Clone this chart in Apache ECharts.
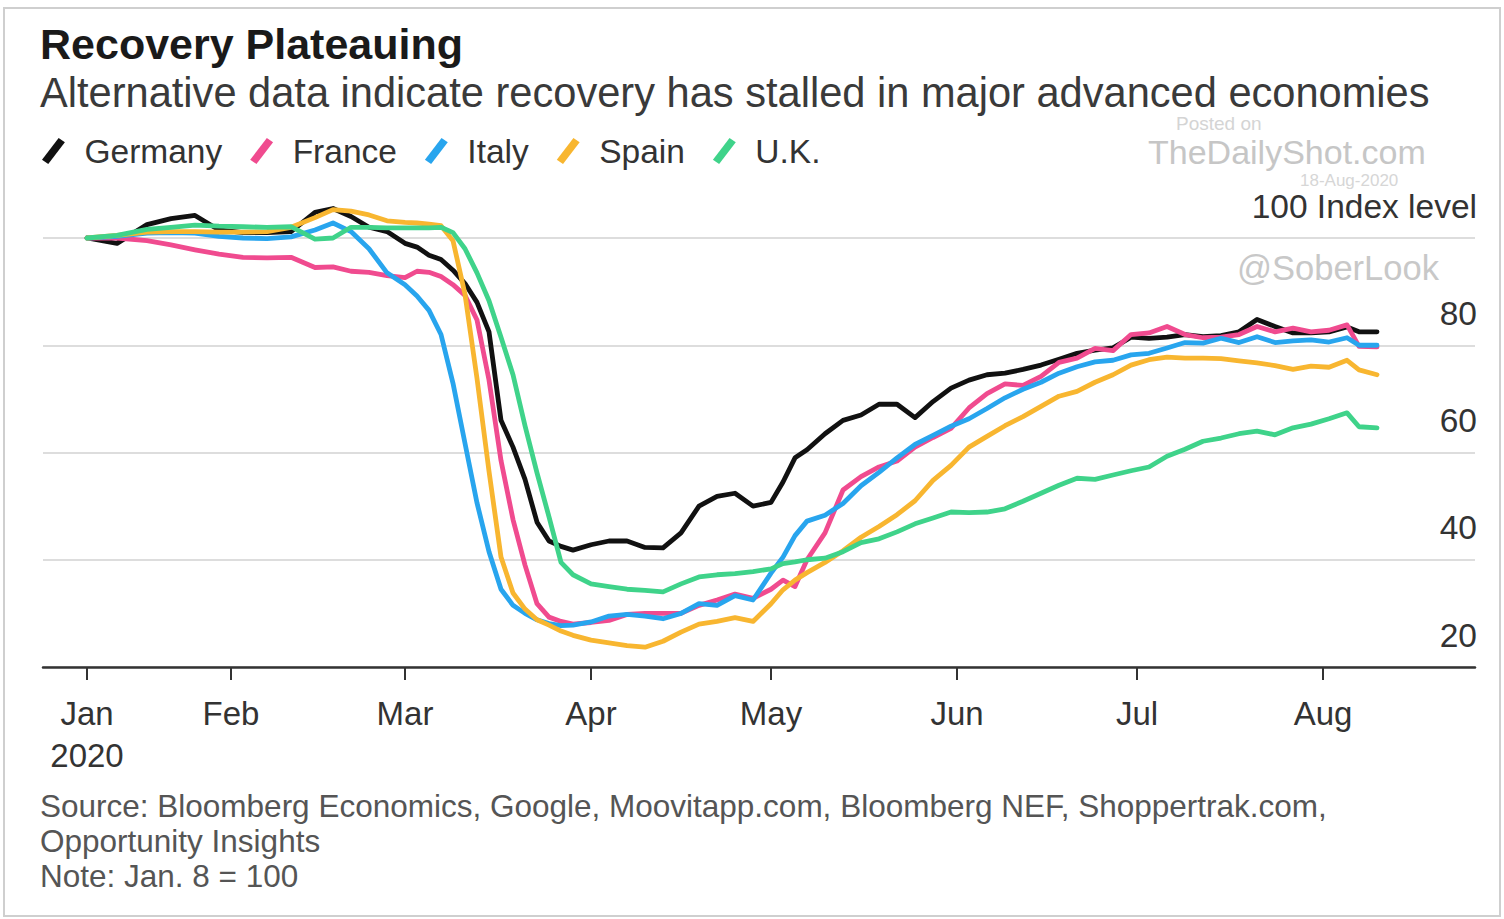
<!DOCTYPE html>
<html>
<head>
<meta charset="utf-8">
<script src="https://cdn.jsdelivr.net/npm/echarts@6/dist/echarts.min.js"></script>
<style>
html,body{margin:0;padding:0;background:#fff;}
#chart{width:1504px;height:919px;}
</style>
</head>
<body>
<div id="chart"></div>
<script>
const titleText = 'Recovery Plateauing';
const subtitleText = 'Alternative data indicate recovery has stalled in major advanced economies';
const sourceText = 'Source: Bloomberg Economics, Google, Moovitapp.com, Bloomberg NEF, Shoppertrak.com,\nOpportunity Insights\nNote: Jan. 8 = 100';
const seriesNames = ['Germany', 'France', 'Italy', 'Spain', 'U.K.'];
const seriesColors = ['#111111', '#f04b8f', '#28a5ee', '#f8b630', '#3fd38a'];
const monthNames = ['Jan', 'Feb', 'Mar', 'Apr', 'May', 'Jun', 'Jul', 'Aug'];
const xTickDates = ['2020-01-08', '2020-02-01', '2020-03-01', '2020-04-01', '2020-05-01', '2020-06-01', '2020-07-01', '2020-08-01'];
const yTicks = [20, 40, 60, 80, 100];

const dates = [
  '2020-01-08','2020-01-13','2020-01-18','2020-01-22','2020-01-26','2020-01-30','2020-02-03','2020-02-07','2020-02-11','2020-02-15',
  '2020-02-18','2020-02-21','2020-02-24','2020-02-27','2020-03-01','2020-03-03','2020-03-05','2020-03-07','2020-03-09','2020-03-11',
  '2020-03-13','2020-03-15','2020-03-17','2020-03-19','2020-03-21','2020-03-23','2020-03-25','2020-03-27','2020-03-29','2020-04-01',
  '2020-04-04','2020-04-07','2020-04-10','2020-04-13','2020-04-16','2020-04-19','2020-04-22','2020-04-25','2020-04-28','2020-05-01',
  '2020-05-03','2020-05-05','2020-05-07','2020-05-10','2020-05-13','2020-05-16','2020-05-19','2020-05-22','2020-05-25','2020-05-28',
  '2020-05-31','2020-06-03','2020-06-06','2020-06-09','2020-06-12','2020-06-15','2020-06-18','2020-06-21','2020-06-24','2020-06-27',
  '2020-06-30','2020-07-03','2020-07-06','2020-07-09','2020-07-12','2020-07-15','2020-07-18','2020-07-21','2020-07-24','2020-07-27',
  '2020-07-30','2020-08-02','2020-08-05','2020-08-07','2020-08-10'
];

const germany = [
  100, 99.0, 102.5, 103.6, 104.2, 101.5, 101.0, 101.0, 101.2, 104.8,
  105.5, 104.0, 102.0, 101.2, 99.0, 98.3, 96.8, 96.0, 94.0, 91.5,
  88.0, 82.5, 66.0, 61.0, 55.0, 47.0, 43.5, 42.5, 41.8, 42.8,
  43.5, 43.5, 42.3, 42.2, 45.0, 50.0, 51.8, 52.4, 50.0, 50.7,
  54.5, 59.0, 60.5, 63.5, 66.0, 67.0, 69.0, 69.0, 66.5, 69.5,
  72.0, 73.5, 74.5, 74.8, 75.5, 76.3, 77.4, 78.5, 79.1, 79.5,
  81.5, 81.3, 81.5, 82.0, 81.6, 81.8, 82.5, 84.8, 83.5, 82.3,
  82.3, 82.5, 83.4, 82.5, 82.5
];
const france = [
  100, 100, 99.5, 98.7, 97.8, 97.0, 96.4, 96.3, 96.4, 94.5,
  94.6, 93.8, 93.6, 93.0, 92.6, 93.8, 93.6, 92.8, 91.3, 89.3,
  84.7, 73.5, 58.5, 47.5, 39.0, 31.8, 29.3, 28.5, 28.0, 28.3,
  28.7, 29.8, 30.0, 30.0, 30.0, 31.5, 32.5, 33.6, 32.8, 34.5,
  36.2, 35.0, 40.0, 45.0, 53.0, 55.5, 57.3, 58.4, 61.0, 62.8,
  64.5, 68.3, 71.0, 72.8, 72.5, 74.2, 76.8, 77.6, 79.4, 79.0,
  82.0, 82.3, 83.5, 82.0, 81.4, 81.5, 82.0, 83.5, 82.5, 83.2,
  82.5, 82.8, 83.8, 79.8, 79.7
];
const italy = [
  100, 100.3, 100.9, 101.0, 100.9, 100.3, 100.0, 99.9, 100.2, 101.5,
  102.8, 101.2, 98.0, 93.5, 91.3, 89.2, 86.5, 82.0, 72.9, 61.7,
  50.6, 41.5, 34.5, 31.5, 30.0, 28.8, 28.1, 27.7, 27.8, 28.4,
  29.5, 29.8, 29.5, 29.0, 30.0, 31.8, 31.5, 33.3, 32.5, 37.5,
  40.5, 44.5, 47.2, 48.3, 50.5, 53.8, 56.3, 59.0, 61.5, 63.2,
  64.9, 66.3, 68.2, 70.2, 71.8, 73.1, 74.8, 76.0, 76.9, 77.2,
  78.2, 78.5, 79.5, 80.5, 80.4, 81.3, 80.5, 81.6, 80.5, 80.8,
  81.0, 80.6, 81.4, 80.0, 80.0
];
const spain = [
  100, 100.5, 101.1, 101.2, 101.2, 101.1, 101.1, 101.2, 102.0, 103.8,
  105.3, 105.0, 104.3, 103.2, 102.9, 102.8, 102.6, 102.3, 99.5, 89.5,
  73.8, 56.5, 40.5, 33.8, 30.8, 28.8, 27.8, 26.7, 25.9, 25.0,
  24.5, 24.0, 23.7, 24.8, 26.5, 28.0, 28.5, 29.2, 28.5, 31.8,
  34.4, 36.2, 37.6, 39.5, 41.7, 44.2, 46.2, 48.4, 51.0, 54.8,
  57.6, 61.0, 63.0, 65.0, 66.7, 68.6, 70.5, 71.4, 73.1, 74.5,
  76.3, 77.3, 77.8, 77.6, 77.6, 77.5, 77.1, 76.7, 76.2, 75.5,
  76.1, 75.9, 77.2, 75.4, 74.5
];
const uk = [
  100, 100.5, 101.6, 102.0, 102.4, 102.2, 102.1, 102.0, 102.1, 99.8,
  100.0, 102.0, 102.0, 101.9, 101.9, 101.9, 101.9, 102.0, 101.0, 98.0,
  93.5, 88.3, 81.5, 74.5, 65.0, 56.2, 48.0, 39.5, 37.2, 35.5,
  35.0, 34.5, 34.3, 34.0, 35.5, 36.8, 37.2, 37.4, 37.8, 38.3,
  39.3, 39.6, 40.0, 40.3, 41.5, 43.2, 43.9, 45.2, 46.7, 47.8,
  48.9, 48.8, 48.9, 49.5, 50.9, 52.4, 53.9, 55.2, 55.0, 55.8,
  56.6, 57.3, 59.3, 60.6, 62.1, 62.7, 63.5, 64.0, 63.3, 64.6,
  65.3, 66.3, 67.4, 64.8, 64.6
];
const seriesValues = [germany, france, italy, spain, uk];

const FONT = '"Liberation Sans", Arial, Helvetica, sans-serif';
const DAY = 86400000;
const jan1 = Date.UTC(2020, 0, 1);
// day offset since 1 Jan 2020
function dayOf(s) { const p = s.split('-').map(Number); return Math.round((Date.UTC(p[0], p[1] - 1, p[2]) - jan1) / DAY); }
const xTicks = xTickDates.map(dayOf);

const chart = echarts.init(document.getElementById('chart'), null, { renderer: 'svg' });

const series = seriesNames.map((name, i) => ({
  name: name,
  type: 'line',
  data: dates.map((d, j) => [dayOf(d), seriesValues[i][j]]),
  showSymbol: false,
  symbol: 'none',
  clip: false,
  smooth: false,
  lineStyle: { color: seriesColors[i], width: 4.8, join: 'round', cap: 'round' },
  itemStyle: { color: seriesColors[i] },
  emphasis: { disabled: true },
  z: 3 + i
}));

const option = {
  animation: false,
  backgroundColor: '#ffffff',
  title: [
    { text: titleText, left: 40, top: 22, padding: 0,
      textStyle: { fontFamily: FONT, fontSize: 43, fontWeight: 'bold', color: '#1a1a1a', lineHeight: 44 } },
    { text: subtitleText, left: 40, top: 71, padding: 0,
      textStyle: { fontFamily: FONT, fontSize: 41.6, fontWeight: 'normal', color: '#3a3a3a', lineHeight: 42 } },
    { text: sourceText, left: 40, top: 788, padding: 0,
      textStyle: { fontFamily: FONT, fontSize: 31.5, fontWeight: 'normal', color: '#555555', lineHeight: 35 } }
  ],
  legend: {
    left: 42, top: 134, padding: 0,
    itemGap: 28, itemWidth: 24, itemHeight: 26,
    icon: 'path://M0,21 L16,0 L22,4 L6,25 Z',
    selectedMode: false,
    data: seriesNames,
    textStyle: { fontFamily: FONT, fontSize: 33.5, color: '#333333', lineHeight: 34, padding: [0, 0, 0, 14] }
  },
  grid: { left: 43, right: 29, top: 238, bottom: 252, containLabel: false },
  xAxis: {
    type: 'value',
    min: -1 / 3,
    max: 238.33,
    splitLine: { show: false },
    axisLine: { show: true, lineStyle: { color: '#333333', width: 2.5 } },
    axisTick: { show: true, customValues: xTicks, length: 13, lineStyle: { color: '#333333', width: 2 } },
    axisLabel: {
      customValues: xTicks,
      margin: 25,
      fontFamily: FONT, fontSize: 33, color: '#333333', lineHeight: 42,
      formatter: function (v) {
        const d = new Date(jan1 + Math.round(v) * DAY);
        const m = d.getUTCMonth();
        return m === 0 ? monthNames[m] + '\n2020' : monthNames[m];
      }
    }
  },
  yAxis: {
    type: 'value',
    position: 'right',
    min: 20, max: 100, interval: 20,
    axisLine: { show: false },
    axisTick: { show: false },
    splitLine: { show: true, lineStyle: { color: '#dddddd', width: 2 } },
    axisLabel: {
      inside: true, align: 'right', verticalAlign: 'bottom',
      margin: -2, padding: [0, 0, 15, 0],
      fontFamily: FONT, fontSize: 33.5, color: '#333333', lineHeight: 34,
      formatter: function (v) { return v === 100 ? '100 Index level' : String(v); }
    }
  },
  graphic: { elements: [
    { type: 'rect', z: -1, silent: true, shape: { x: 4, y: 8, width: 1496, height: 908 },
      style: { fill: 'none', stroke: '#cfcfcf', lineWidth: 2 } },
    { type: 'text', z: -1, silent: true, x: 1176, y: 123,
      style: { text: 'Posted on', fontFamily: FONT, fontSize: 19, fill: '#d4d4d4', verticalAlign: 'middle' } },
    { type: 'text', z: -1, silent: true, x: 1148, y: 152,
      style: { text: 'TheDailyShot.com', fontFamily: FONT, fontSize: 34, fill: '#c6c6c6', verticalAlign: 'middle' } },
    { type: 'text', z: -1, silent: true, x: 1300, y: 180,
      style: { text: '18-Aug-2020', fontFamily: FONT, fontSize: 17, fill: '#d6d6d6', verticalAlign: 'middle' } },
    { type: 'text', z: -1, silent: true, x: 1237, y: 268,
      style: { text: '@SoberLook', fontFamily: FONT, fontSize: 34.5, fill: '#c8c8c8', verticalAlign: 'middle' } }
  ] },
  series: series
};
chart.setOption(option);
</script>
</body>
</html>
